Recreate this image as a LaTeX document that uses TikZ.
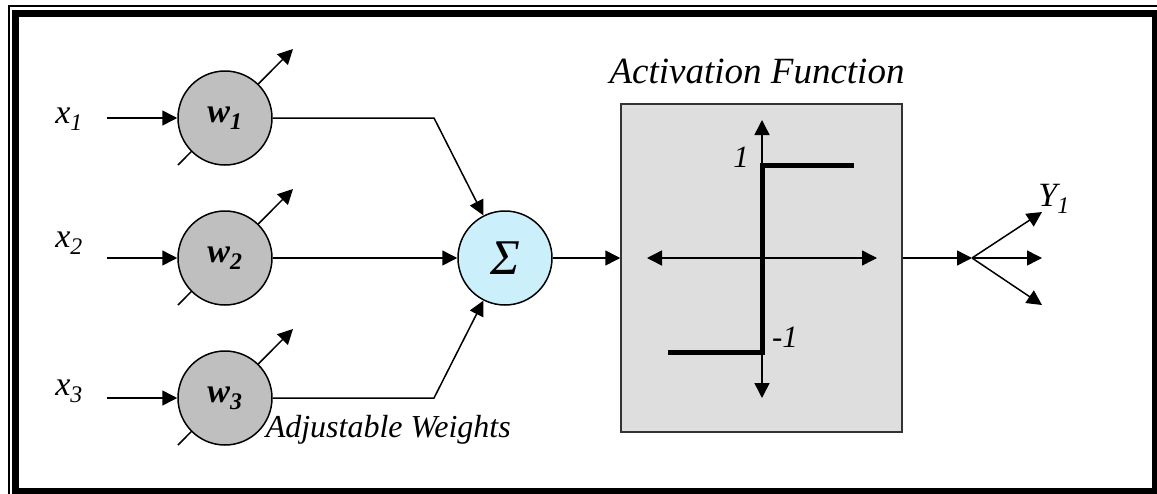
\documentclass[tikz,border=0pt]{standalone}
\usepackage{fontspec}
\setmainfont{Liberation Serif}
\usetikzlibrary{arrows.meta,calc}
\begin{document}
\begin{tikzpicture}[x=1pt,y=-1pt,line width=1.5pt,
  >={Triangle[length=15pt,width=15pt]},
  wnode/.style={circle,draw,fill=black!25,minimum size=94pt,inner sep=0pt,
    font=\fontsize{34}{36}\selectfont\bfseries\itshape},
  snode/.style={circle,draw,fill=cyan!20,minimum size=94pt,inner sep=0pt,
    font=\fontsize{50}{52}\selectfont},
  actbox/.style={rectangle,draw=black!80,fill=black!13,minimum width=281pt,
    minimum height=328pt,inner sep=0pt},
  lbl/.style={inner sep=0pt,font=\fontsize{34}{36}\selectfont\itshape},
  steplw/.style={line width=5pt}]
\useasboundingbox (0,0) rectangle (1157,493);
% frame
\draw[line width=2pt] (9,6) rectangle (1175,510);
\draw[line width=7pt] (15.5,13.5) rectangle (1155.5,491.5);
% weight centres and adjustment arrows
\foreach \i/\y in {1/118,2/258,3/398}{
  \coordinate (c\i) at (225,\y);
  \draw[->] ($(c\i)+(-47,47)$) -- ($(c\i)+(68,-69)$);
}
\node[wnode] (w1) at (c1) {w\textsubscript{1}};
\node[wnode] (w2) at (c2) {w\textsubscript{2}};
\node[wnode] (w3) at (c3) {w\textsubscript{3}};
% inputs
\node[lbl] (x1) at (69,119) {x\textsubscript{1}};
\node[lbl] (x2) at (69,243) {x\textsubscript{2}};
\node[lbl] (x3) at (69,391) {x\textsubscript{3}};
\coordinate (i1) at (107,118);
\coordinate (i2) at (107,258);
\coordinate (i3) at (107,398);
\draw[->] (i1) -- (w1);
\draw[->] (i2) -- (w2);
\draw[->] (i3) -- (w3);
% summation
\node[snode] (sigma) at (505,258) {\textit{Σ}};
\coordinate (k1) at (434,118);
\coordinate (k3) at (434,398);
\draw[->] (w1.east) -- (k1) -- (sigma);
\draw[->] (w2.east) -- (sigma.west);
\draw[->] (w3.east) -- (k3) -- (sigma);
% activation box
\node[actbox] (act) at (761.5,268) {};
\node[lbl,anchor=base,font=\fontsize{37}{39}\selectfont\itshape] (atitle) at (757,83) {Activation Function};
\draw[->] (sigma.east) -- (sigma.east -| act.west);
\coordinate (hl) at (647,258);
\coordinate (hr) at (877,258);
\coordinate (vt) at (762,120);
\coordinate (vb) at (762,398);
\draw[<->] (hl) -- (hr);
\draw[<->] (vt) -- (vb);
\coordinate (s1) at (668,352);
\coordinate (s2) at (762,352);
\coordinate (s3) at (762,165);
\coordinate (s4) at (854,165);
\draw[steplw] (s1) -- (s2) -- (s3) -- (s4);
\node[lbl,font=\fontsize{31}{33}\selectfont\itshape] (one) at (741,157) {1};
\node[lbl,font=\fontsize{31}{33}\selectfont\itshape] (mone) at (785,337) {-1};
% output
\coordinate (o) at (972,258);
\draw[->] (act.east |- o) -- (o);
\coordinate (y1) at (1042,212);
\coordinate (y2) at (1042,258);
\coordinate (y3) at (1042,305);
\draw[->] (o) -- (y1);
\draw[->] (o) -- (y2);
\draw[->] (o) -- (y3);
\node[lbl] (ylab) at (1054,199) {Y\textsubscript{1}};
% weights label
\node[lbl,anchor=base west,font=\fontsize{32}{34}\selectfont\itshape] (adj) at (265,437) {Adjustable Weights};
\end{tikzpicture}
\end{document}
